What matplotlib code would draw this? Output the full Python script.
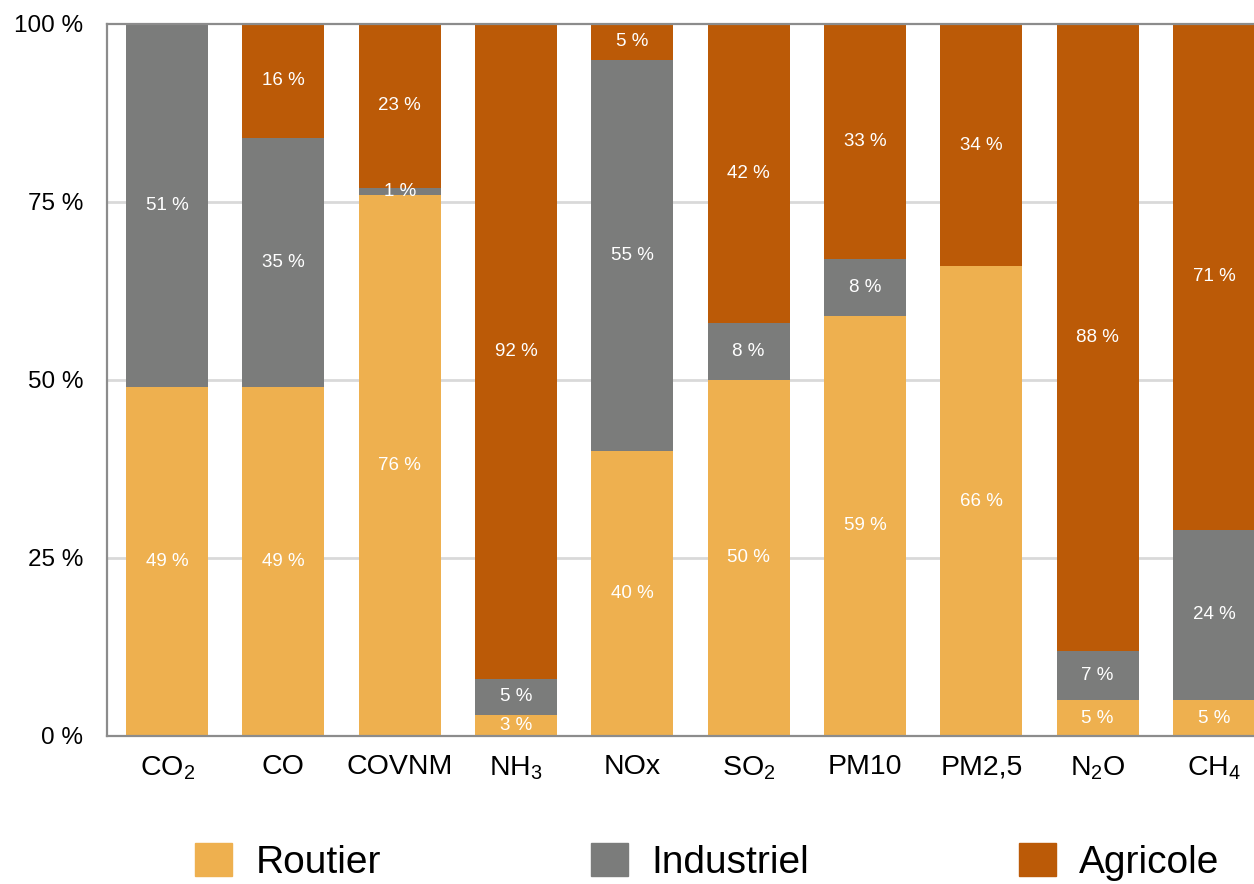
import matplotlib
matplotlib.use("Agg")
import matplotlib.pyplot as plt
import numpy as np
from matplotlib.patches import Patch

plt.rcParams['font.family'] = ['Liberation Sans', 'DejaVu Sans']
plt.rcParams['mathtext.fontset'] = 'custom'
plt.rcParams['mathtext.rm'] = 'Liberation Sans'

# polluants (labels with subscripts)
categories = [r'CO$_\mathregular{2}$', 'CO', 'COVNM', r'NH$_\mathregular{3}$', 'NOx',
              r'SO$_\mathregular{2}$', 'PM10', 'PM2,5', r'N$_\mathregular{2}$O', r'CH$_\mathregular{4}$']
routier = [49, 49, 76, 3, 40, 50, 59, 66, 5, 5]
industriel = [51, 35, 1, 5, 55, 8, 8, 0, 7, 24]
agricole = [0, 16, 23, 92, 5, 42, 33, 34, 88, 71]
series_names = ['Routier', 'Industriel', 'Agricole']
colors = ['#EEB04F', '#7B7C7B', '#BB5A07']
yticks = [0, 25, 50, 75, 100]

fig = plt.figure(figsize=(12.54, 8.84), dpi=100)
ax = fig.add_axes([107 / 1254, 1 - 736 / 884, 1 - 107 / 1254, (736 - 24) / 884])

x = np.arange(len(categories))
width = 0.705
bottom = np.zeros(len(categories))
for vals, col in zip([routier, industriel, agricole], colors):
    vals = np.array(vals, dtype=float)
    ax.bar(x, vals, width, bottom=bottom, color=col, zorder=2)
    for xi, b, v in zip(x, bottom, vals):
        if v > 0:
            ax.text(xi, b + v / 2, f"{int(v)} %", ha='center', va='center',
                    color='white', fontsize=13.5, zorder=3)
    bottom += vals

ax.set_xlim(-0.516, 9.344)
ax.set_ylim(0, 100)
ax.set_yticks(yticks)
ax.set_yticklabels([f"{t} %" for t in yticks], fontsize=17.5)
ax.set_xticks(x)
ax.set_xticklabels(categories, fontsize=20.5)
ax.tick_params(axis='both', length=0)
ax.tick_params(axis='y', pad=17)
ax.tick_params(axis='x', pad=13)

for t in yticks[1:-1]:
    ax.axhline(t, color='#D9D9D9', lw=2, zorder=1)
ax.spines['right'].set_visible(False)
for side in ['left', 'bottom', 'top']:
    ax.spines[side].set_color('#8C8C8C')
    ax.spines[side].set_linewidth(1.6)
    ax.spines[side].set_zorder(4)

handles = [Patch(color=c, label=n) for c, n in zip(colors, series_names)]
fig.legend(handles=handles, loc='center', bbox_to_anchor=(0.564, 0.025), ncol=3,
           frameon=False, fontsize=28, handlelength=0.95, handleheight=0.95,
           handletextpad=0.6, columnspacing=5.4)

fig.savefig('out.png', dpi=100)
